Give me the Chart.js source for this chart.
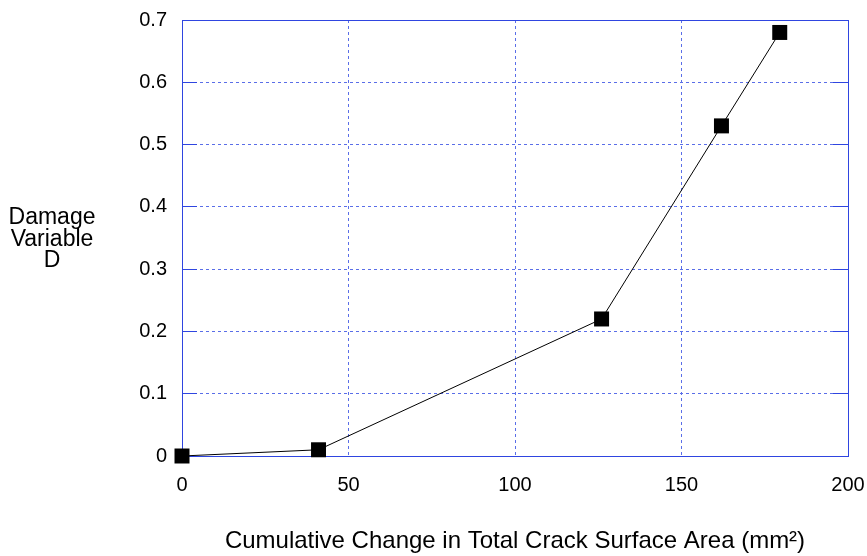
<!DOCTYPE html>
<html>
<head>
<meta charset="utf-8">
<script src="https://cdn.jsdelivr.net/npm/chart.js@4"></script>
<style>
  html, body { margin: 0; padding: 0; background: #fff; }
  #wrap { width: 867px; height: 556px; }
</style>
</head>
<body>
<div id="wrap"><canvas id="chart" width="867" height="556"></canvas></div>
<script>
// valores
const crackArea = [0, 41, 126, 162, 179.5];
const damage = [0, 0.01, 0.22, 0.53, 0.68];
const xTicks = [0, 50, 100, 150, 200];
const yTicks = [0, 0.1, 0.2, 0.3, 0.4, 0.5, 0.6, 0.7];
const yTitleLines = ['Damage', 'Variable', 'D'];
const xTitle = 'Cumulative Change in Total Crack Surface Area (mm²)';

const gridBlue = '#5a6ee8';
const borderBlue = '#2f45e0';
const fontFam = '"Liberation Sans", Arial, Helvetica, sans-serif';

// alinhamento igual ao da grade do Chart.js
const alignPx = p => Math.round(p - 0.5) + 0.5;

// marcas curtas para dentro + moldura + titulo do eixo y na horizontal
const innerTicks = {
    id: 'innerTicks',
    beforeDatasetsDraw(chart) {
        const ctx = chart.ctx;
        const a = chart.chartArea;
        const y = chart.scales.y;
        ctx.save();
        ctx.strokeStyle = borderBlue;
        ctx.lineWidth = 1;
        ctx.beginPath();
        yTicks.forEach(v => {
            const py = alignPx(y.getPixelForValue(v));
            ctx.moveTo(a.left, py); ctx.lineTo(a.left + 15, py);
            ctx.moveTo(a.right, py); ctx.lineTo(a.right - 15, py);
        });
        ctx.stroke();
        ctx.strokeRect(alignPx(a.left), alignPx(a.top),
            Math.round(a.right - a.left), Math.round(a.bottom - a.top));
        ctx.restore();
    },
    afterDraw(chart) {
        const ctx = chart.ctx;
        ctx.save();
        ctx.fillStyle = '#000';
        ctx.font = '23px ' + fontFam;
        ctx.textAlign = 'center';
        ctx.textBaseline = 'middle';
        yTitleLines.forEach((t, i) => ctx.fillText(t, 52, 218 + i * 21.5));
        ctx.restore();
    }
};

const ctx = document.getElementById('chart').getContext('2d');
const chart = new Chart(ctx, {
    type: 'scatter',
    data: {
        datasets: [{
            data: crackArea.map((v, i) => ({ x: v, y: damage[i] })),
            showLine: true,
            clip: false,
            borderColor: '#000',
            borderWidth: 1,
            backgroundColor: '#000',
            pointStyle: 'rect',
            pointRadius: 10.6,
            pointHoverRadius: 10.6,
            pointBorderWidth: 0,
        }],
    },
    options: {
        responsive: false,
        animation: false,
        layout: { padding: { top: 20, right: 19, left: 0, bottom: 0 } },
        plugins: {
            legend: { display: false },
            tooltip: { enabled: false },
        },
        scales: {
            x: {
                type: 'linear',
                min: 0, max: 200,
                afterBuildTicks: s => { s.ticks = xTicks.map(v => ({ value: v })); },
                afterFit: s => {
                    s.height = 100;
                    s.paddingLeft = 0;
                    s.paddingRight = 0;
                },
                border: { display: false },
                grid: {
                    color: gridBlue,
                    lineWidth: 1,
                    drawTicks: false,
                },
                ticks: {
                    color: '#000',
                    padding: 17,
                    font: { family: fontFam, size: 20 },
                },
                title: {
                    display: true,
                    text: xTitle,
                    color: '#000',
                    font: { family: fontFam, size: 24 },
                    padding: { top: 31, bottom: 0 },
                },
            },
            y: {
                min: 0, max: 0.7,
                afterBuildTicks: s => { s.ticks = yTicks.map(v => ({ value: v })); },
                afterFit: s => {
                    s.width = 182;
                    s.paddingTop = 0;
                    s.paddingBottom = 0;
                },
                border: { display: false },
                grid: {
                    color: gridBlue,
                    lineWidth: 1,
                    drawTicks: false,
                },
                ticks: {
                    color: '#000',
                    padding: 15,
                    font: { family: fontFam, size: 20 },
                    callback: v => Number(v.toFixed(1)).toString(),
                },
            },
        },
    },
    plugins: [innerTicks],
});
// grade tracejada
chart.options.scales.x.border.dash = [3, 3];
chart.options.scales.y.border.dash = [3, 3];
chart.update();
</script>
</body>
</html>
